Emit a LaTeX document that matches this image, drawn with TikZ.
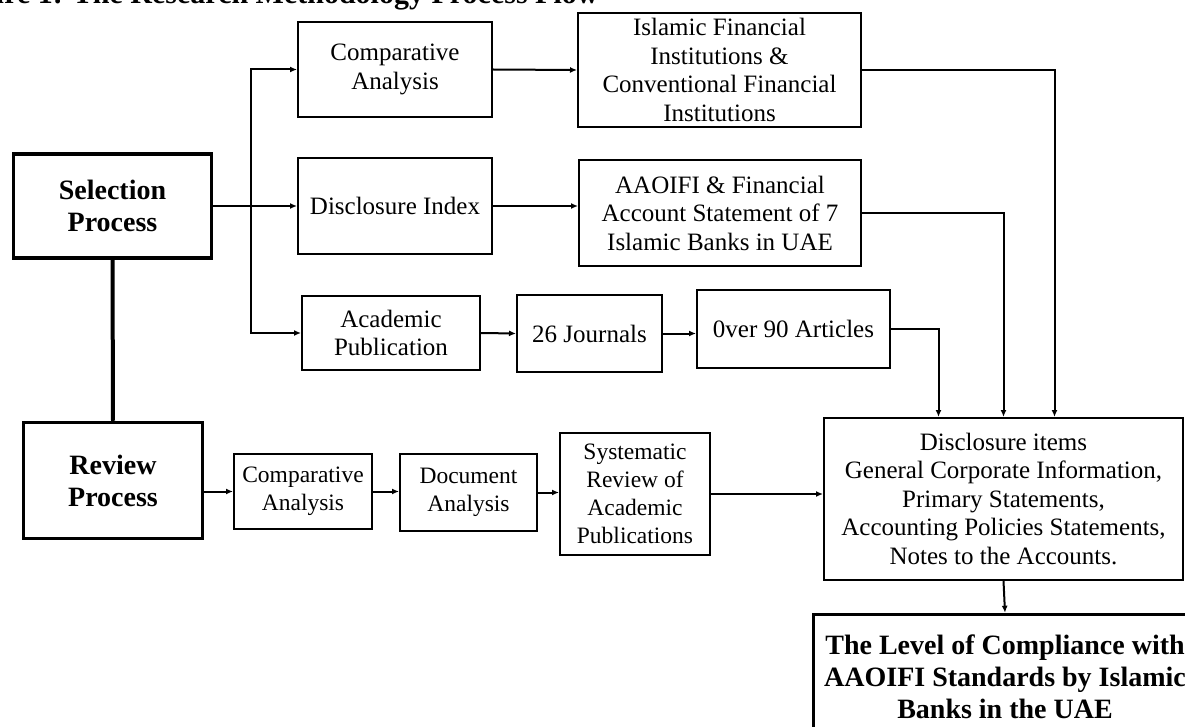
\documentclass[tikz,border=0pt]{standalone}
\usepackage{fontspec}
\setmainfont{Liberation Serif}
\usetikzlibrary{arrows.meta}

\tikzset{
	box/.style={draw, line width=2pt, inner sep=0pt, align=center, font=\fontsize{25}{28.5}\selectfont},
	smallbox/.style={box, font=\fontsize{23.5}{28}\selectfont},
	mainbox/.style={draw, line width=3.5pt, inner sep=0pt, align=center, font=\bfseries\fontsize{28}{32}\selectfont},
	arr/.style={line width=2pt, -{Latex[length=7pt,width=6pt]}}
}

\begin{document}
\begin{tikzpicture}[x=1pt, y=-1pt]
		%%%%% START %%%%%
		
		\useasboundingbox (0, 0) rectangle (1185, 727);
		\clip (0, 0) rectangle (1185, 727);
		\fill[white] (0, 0) rectangle (1185, 727);
		
		\node[font=\bfseries\fontsize{30}{34}\selectfont, anchor=base east] (title) at (602, 4) {Figure 1: The Research Methodology Process Flow};
		
		\node[mainbox, minimum width=198, minimum height=104] (sel) at (112.5, 206) {Selection\\Process};
		\node[mainbox, minimum width=179, minimum height=116] (rev) at (113, 480.5) {Review\\Process};
		
		\node[box, minimum width=194, minimum height=95] (ca1) at (395, 69.5) {Comparative\\Analysis};
		\node[box, minimum width=283, minimum height=114] (ifi) at (719.5, 70) {Islamic Financial\\Institutions \&\\Conventional Financial\\Institutions};
		\node[box, minimum width=194, minimum height=96] (di) at (395, 206) {Disclosure Index};
		\node[box, minimum width=282, minimum height=106] (aa) at (720, 213) {AAOIFI \& Financial\\Account Statement of 7\\Islamic Banks in UAE};
		\node[box, minimum width=178, minimum height=74] (ap) at (391, 333) {Academic\\Publication};
		\node[box, minimum width=145, minimum height=77] (jn) at (589.5, 333.5) {26 Journals};
		\node[box, minimum width=193, minimum height=78] (art) at (793.5, 329) {0ver 90 Articles};
		
		\node[box, minimum width=359, minimum height=162] (disc) at (1003.5, 499) {Disclosure items\\General Corporate Information,\\Primary Statements,\\Accounting Policies Statements,\\Notes to the Accounts.};
		\node[mainbox, minimum width=383, minimum height=125] (fin) at (1005, 677) {The Level of Compliance with\\AAOIFI Standards by Islamic\\Banks in the UAE};
		
		\node[smallbox, minimum width=138, minimum height=75] (ca2) at (303, 491.5) {Comparative\\Analysis};
		\node[smallbox, minimum width=137, minimum height=77] (doc) at (468.5, 492.5) {Document\\Analysis};
		\node[smallbox, minimum width=150, minimum height=122] (sys) at (635, 494) {Systematic\\Review of\\Academic\\Publications};
		
		% selection branch
		\coordinate (split) at (251, 206);
		\draw[arr] (sel.east) -- (di.west);
		\draw[arr] (split) |- (ca1.west);
		\draw[arr] (split) |- (ap.west);
		\draw[arr] (ca1.east) -- (ifi.west);
		\draw[arr] (di.east) -- (di.east -| aa.west);
		\draw[arr] (ap.east) -- (jn.west);
		\draw[arr] (jn.east) -- (jn.east -| art.west);
		
		\draw[arr] (ifi.east) -| ([xshift=51]disc.north);
		\draw[arr] (aa.east) -| (disc.north);
		\draw[arr] (art.east) -| ([xshift=-65]disc.north);
		
		\draw[line width=4pt] (sel.south) -- (rev.north);
		
		% review branch
		\draw[arr] (rev.east |- ca2.west) -- (ca2.west);
		\draw[arr] (ca2.east) -- (ca2.east -| doc.west);
		\draw[arr] (doc.east) -- (doc.east -| sys.west);
		\draw[arr] (sys.east) -- (sys.east -| disc.west);
		
		\draw[arr] (disc.south) -- (fin.north);
		
		%%%%% END %%%%%
\end{tikzpicture}
\end{document}
